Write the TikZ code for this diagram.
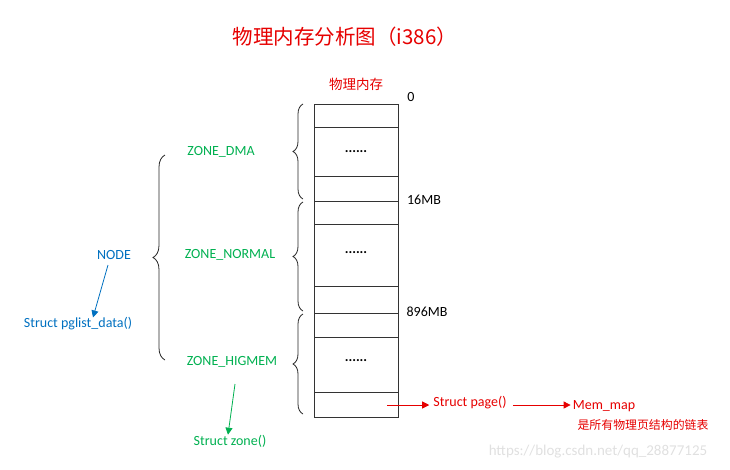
\documentclass[tikz,border=0pt]{standalone}
\usepackage{fontspec}
\setmainfont{Carlito}
\newfontfamily\cjk{Noto Sans CJK SC}
\usetikzlibrary{decorations.pathreplacing,arrows.meta}
\definecolor{zred}{RGB}{230,0,0}
\definecolor{zgreen}{RGB}{0,176,80}
\definecolor{zblue}{RGB}{0,112,192}
\tikzset{
  lbl/.style={inner sep=0pt, font=\fontsize{14}{16}\selectfont},
  cell/.style={draw=black!80, line width=0.8pt},
  brc/.style={decorate, decoration={brace, amplitude=10pt}, line width=0.8pt, black!85},
  arr/.style={-{Triangle[length=7pt,width=7pt]}, line width=0.8pt},
}
\begin{document}
\begin{tikzpicture}[x=1pt,y=-1pt]
\useasboundingbox (0,0) rectangle (730,469);
% title
\node[inner sep=0pt, text=zred, font=\cjk\fontsize{20.5}{24}\selectfont] (title) at (345,37) {物理内存分析图（i386）};
\node[inner sep=0pt, text=zred, font=\cjk\fontsize{13.5}{16}\selectfont] (mem) at (356,84) {物理内存};
% memory box
\draw[cell] (314,104) rectangle (398,417);
\foreach \yy in {127,176,201,224,286,313,337,392} \draw[cell] (314,\yy) -- (398,\yy);
\node[lbl, font=\bfseries\fontsize{14}{16}\selectfont] (d1) at (356,152) {......};
\node[lbl, font=\bfseries\fontsize{14}{16}\selectfont] (d2) at (356,253) {......};
\node[lbl, font=\bfseries\fontsize{14}{16}\selectfont] (d3) at (356,361) {......};
\node[lbl] (a0) at (411,97) {0};
\node[lbl] (a16) at (424,200) {16MB};
\node[lbl] (a896) at (427,312) {896MB};
% braces for zones
\coordinate (b1t) at (303,104); \coordinate (b1b) at (303,199);
\coordinate (b2t) at (303,202); \coordinate (b2b) at (303,311);
\coordinate (b3t) at (303,314); \coordinate (b3b) at (303,414);
\draw[brc] (b1b) -- (b1t);
\draw[brc] (b2b) -- (b2t);
\draw[brc] (b3b) -- (b3t);
% zones
\node[lbl, text=zgreen] (zdma) at (221,152) {ZONE\_DMA};
\node[lbl, text=zgreen] (znorm) at (230,255) {ZONE\_NORMAL};
\node[lbl, text=zgreen] (zhigh) at (232,362) {ZONE\_HIGMEM};
% big brace
\coordinate (bbt) at (165,155); \coordinate (bbb) at (165,360);
\draw[brc, decoration={brace, amplitude=12pt}] (bbb) -- (bbt);
% node
\node[lbl, text=zblue] (node) at (114,255) {NODE};
\node[lbl, text=zblue] (pg) at (78,324) {Struct pglist\_data()};
\coordinate (n1) at (108,265);
\draw[arr, zblue] (n1) -- (pg.north -| 93,0);
% zone struct
\node[lbl, text=zgreen] (sz) at (230,441) {Struct zone()};
\coordinate (z1) at (235,384);
\draw[arr, zgreen] (z1) -- (sz.north -| 228,0);
% page
\node[lbl, text=zred] (sp) at (470,403) {Struct page()};
\node[lbl, text=zred] (mm) at (604,406) {Mem\_map};
\node[inner sep=0pt, text=zred, font=\cjk\fontsize{11.9}{14}\selectfont] (desc) at (643,425) {是所有物理页结构的链表};
\coordinate (p1) at (387,405);
\draw[arr, zred] (p1) -- ([xshift=-4pt]sp.west |- p1);
\draw[arr, zred] ([xshift=6pt]sp.east |- p1) -- ([xshift=-2pt]mm.west |- p1);
% watermark
\node[inner sep=0pt, text=black!12, font=\fontsize{15}{17}\selectfont] (wm) at (598,452) {https://blog.csdn.net/qq\_28877125};
\end{tikzpicture}
\end{document}
